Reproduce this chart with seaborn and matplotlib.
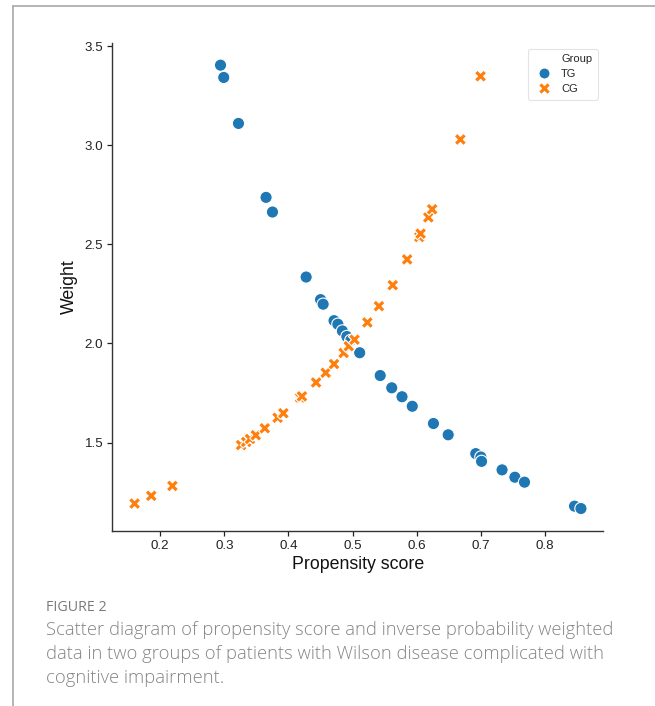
import matplotlib
matplotlib.use("Agg")
import matplotlib.pyplot as plt
from matplotlib.lines import Line2D
import seaborn as sns
import pandas as pd

# Treatment group (TG): propensity score vs. inverse probability weight
tg_score = [0.294, 0.299, 0.322, 0.365, 0.375, 0.4275, 0.450, 0.454, 0.471,
            0.477, 0.484, 0.491, 0.497, 0.511, 0.543, 0.561, 0.577, 0.593,
            0.626, 0.649, 0.692, 0.700, 0.701, 0.733, 0.753, 0.768, 0.846, 0.856]
tg_weight = [3.404, 3.342, 3.110, 2.737, 2.663, 2.335, 2.221, 2.198, 2.115,
             2.097, 2.063, 2.035, 2.015, 1.953, 1.838, 1.776, 1.731, 1.683,
             1.596, 1.539, 1.444, 1.427, 1.405, 1.362, 1.325, 1.300, 1.179, 1.167]

# Control group (CG)
cg_score = [0.160, 0.186, 0.219, 0.326, 0.334, 0.340, 0.349, 0.363, 0.383,
            0.392, 0.418, 0.421, 0.443, 0.458, 0.471, 0.486, 0.494, 0.503,
            0.523, 0.541, 0.5625, 0.585, 0.604, 0.606, 0.618, 0.624, 0.668, 0.6995]
cg_weight = [1.192, 1.231, 1.281, 1.487, 1.503, 1.518, 1.537, 1.572, 1.625,
             1.648, 1.727, 1.733, 1.803, 1.852, 1.896, 1.952, 1.986, 2.019,
             2.106, 2.188, 2.294, 2.424, 2.537, 2.554, 2.636, 2.677, 3.029, 3.348]

groups = ["TG", "CG"]
x_ticks = [0.2, 0.3, 0.4, 0.5, 0.6, 0.7, 0.8]
y_ticks = [1.5, 2.0, 2.5, 3.0, 3.5]

df = pd.DataFrame({
    "Propensity score": tg_score + cg_score,
    "Weight": tg_weight + cg_weight,
    "Group": [groups[0]] * len(tg_score) + [groups[1]] * len(cg_score),
})

sns.set_style("ticks")
plt.rcParams["font.family"] = ["Liberation Sans", "DejaVu Sans"]

fig = plt.figure(figsize=(6.55, 7.06), dpi=100)
ax = fig.add_axes([0.1714, 0.2483, 0.7496, 0.6908])

sns.scatterplot(data=df, x="Propensity score", y="Weight", hue="Group",
                style="Group", hue_order=groups, style_order=groups,
                markers={"TG": "o", "CG": "X"}, s=78, linewidth=0.8,
                edgecolor="white", palette=["#1f77b4", "#ff7f0e"], ax=ax)

sns.despine(ax=ax)
ax.set_xticks(x_ticks)
ax.set_yticks(y_ticks)
ax.set_xticklabels([f"{v:.1f}" for v in x_ticks])
ax.set_yticklabels([f"{v:.1f}" for v in y_ticks])
ax.tick_params(axis="both", labelsize=9.6, length=3.5, width=0.9,
               colors="#222222", pad=3)
for side in ("left", "bottom"):
    ax.spines[side].set_color("#333333")
    ax.spines[side].set_linewidth(1.0)
ax.set_xlabel("Propensity score", fontsize=12.8, color="#111111", labelpad=3)
ax.set_ylabel("Weight", fontsize=12.8, color="#111111", labelpad=5)

# Legend with the hue name as a header row
handles, labels = ax.get_legend_handles_labels()
header = Line2D([], [], linestyle="none", marker="")
leg = ax.legend([header] + handles, ["Group"] + labels, loc="upper right",
                fontsize=8, frameon=True, handletextpad=0.5,
                borderpad=0.5, labelspacing=0.45, markerscale=0.9)
leg.get_frame().set_edgecolor("#dddddd")
leg.get_frame().set_linewidth(0.8)

# Card frame on the left and top edges
fig.add_artist(Line2D([13 / 655, 1.0], [1 - 6 / 706, 1 - 6 / 706],
                      transform=fig.transFigure, color="#a8a8a8", lw=1.2))
fig.add_artist(Line2D([13 / 655, 13 / 655], [0.0, 1 - 6 / 706],
                      transform=fig.transFigure, color="#a8a8a8", lw=1.2))

# Caption
cap_font = ["Open Sans", "DejaVu Sans"]
fig.text(46 / 655, 1 - 611 / 706, "FIGURE 2", fontsize=10.3, color="#7a7a7a",
         family=cap_font, va="baseline", ha="left")
caption = [
    "Scatter diagram of propensity score and inverse probability weighted",
    "data in two groups of patients with Wilson disease complicated with",
    "cognitive impairment.",
]
for i, line in enumerate(caption):
    fig.text(46 / 655, 1 - (635 + 24 * i) / 706, line, fontsize=13.2,
             color="#858585", family=cap_font, va="baseline", ha="left",
             fontweight="light")

fig.savefig("out.png", dpi=100, facecolor="white")
